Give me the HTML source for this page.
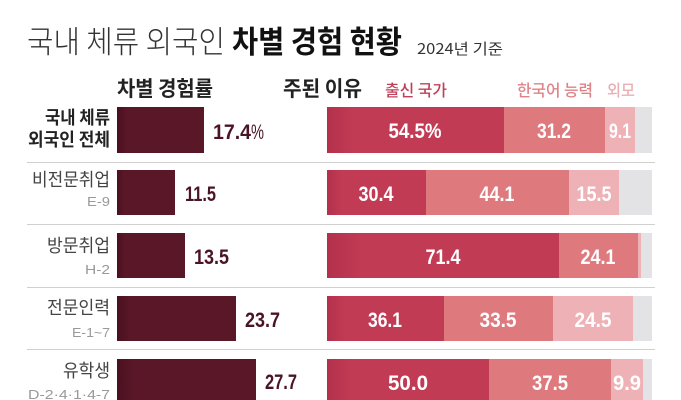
<!DOCTYPE html>
<html><head><meta charset="utf-8">
<style>
html,body{margin:0;padding:0;background:#fff;}
svg{display:block;}
text{font-family:"Liberation Sans","Noto Sans CJK KR",sans-serif;}
.k{font-family:"Noto Sans CJK KR","Liberation Sans",sans-serif;}
</style></head>
<body>
<svg width="681" height="400" viewBox="0 0 681 400" xmlns="http://www.w3.org/2000/svg">
<defs>
<linearGradient id="lg" x1="0" x2="1" y1="0" y2="0">
<stop offset="0" stop-color="#4a1020"/><stop offset="0.12" stop-color="#5a1728"/><stop offset="1" stop-color="#5a1728"/>
</linearGradient>
<linearGradient id="rg" x1="0" x2="1" y1="0" y2="0">
<stop offset="0" stop-color="#b3304b"/><stop offset="0.15" stop-color="#c23b55"/><stop offset="1" stop-color="#c23b55"/>
</linearGradient>
</defs>
<rect width="681" height="400" fill="#fff"/>

<!-- Title -->
<text class="k" x="27" y="53" font-size="31" font-weight="300" fill="#333" textLength="198" lengthAdjust="spacingAndGlyphs">국내 체류 외국인</text>
<text class="k" x="232" y="53" font-size="31" font-weight="700" fill="#111" textLength="170" lengthAdjust="spacingAndGlyphs">차별 경험 현황</text>
<text class="k" x="417" y="54" font-size="15" font-weight="400" fill="#333" textLength="86" lengthAdjust="spacingAndGlyphs">2024년 기준</text>

<!-- headers -->
<text class="k" x="117" y="96" font-size="21" font-weight="700" fill="#222" textLength="96" lengthAdjust="spacingAndGlyphs">차별 경험률</text>
<text class="k" x="283" y="96" font-size="21" font-weight="700" fill="#222" textLength="79" lengthAdjust="spacingAndGlyphs">주된 이유</text>
<text class="k" x="385" y="96" font-size="16" font-weight="500" fill="#c0405a" textLength="62" lengthAdjust="spacingAndGlyphs">출신 국가</text>
<text class="k" x="517" y="96" font-size="16" font-weight="500" fill="#df8387" textLength="76" lengthAdjust="spacingAndGlyphs">한국어 능력</text>
<text class="k" x="607" y="96" font-size="16" font-weight="500" fill="#e9b0b4" textLength="28" lengthAdjust="spacingAndGlyphs">외모</text>

<!-- separators -->
<g stroke="#d0d0d0" stroke-width="1">
<line x1="27" y1="162.5" x2="655" y2="162.5"/>
<line x1="27" y1="224.5" x2="655" y2="224.5"/>
<line x1="27" y1="287.5" x2="655" y2="287.5"/>
<line x1="27" y1="349.5" x2="655" y2="349.5"/>
</g>

<!-- row labels -->
<g text-anchor="end">
<text class="k" x="110" y="124" font-size="18" font-weight="700" fill="#222" textLength="65" lengthAdjust="spacingAndGlyphs">국내 체류</text>
<text class="k" x="110" y="146" font-size="18" font-weight="700" fill="#222" textLength="82" lengthAdjust="spacingAndGlyphs">외국인 전체</text>
<text class="k" x="110" y="186" font-size="18" font-weight="400" fill="#444" textLength="78" lengthAdjust="spacingAndGlyphs">비전문취업</text>
<text x="110" y="206" font-size="13" fill="#999" textLength="23" lengthAdjust="spacingAndGlyphs">E-9</text>
<text class="k" x="110" y="252" font-size="18" font-weight="400" fill="#444" textLength="63" lengthAdjust="spacingAndGlyphs">방문취업</text>
<text x="110" y="274" font-size="13" fill="#999" textLength="25" lengthAdjust="spacingAndGlyphs">H-2</text>
<text class="k" x="110" y="314" font-size="18" font-weight="400" fill="#444" textLength="63" lengthAdjust="spacingAndGlyphs">전문인력</text>
<text x="110" y="337" font-size="13" fill="#999" textLength="38" lengthAdjust="spacingAndGlyphs">E-1~7</text>
<text class="k" x="110" y="377" font-size="18" font-weight="400" fill="#444" textLength="47" lengthAdjust="spacingAndGlyphs">유학생</text>
<text x="110" y="399" font-size="13" fill="#999" textLength="82" lengthAdjust="spacingAndGlyphs">D-2·4·1·4-7</text>
</g>

<!-- left bars -->
<rect x="117" y="107" width="87" height="46" fill="url(#lg)"/>
<rect x="117" y="170" width="58" height="45" fill="url(#lg)"/>
<rect x="117" y="233" width="68" height="45" fill="url(#lg)"/>
<rect x="117" y="296" width="119" height="45" fill="url(#lg)"/>
<rect x="117" y="359" width="139" height="45" fill="url(#lg)"/>

<g font-size="21" font-weight="700" fill="#4a1426">
<text x="213" y="139" textLength="38" lengthAdjust="spacingAndGlyphs">17.4</text>
<text x="251" y="139" font-weight="400" textLength="13" lengthAdjust="spacingAndGlyphs">%</text>
<text x="185" y="201" textLength="31" lengthAdjust="spacingAndGlyphs">11.5</text>
<text x="194" y="264" textLength="35" lengthAdjust="spacingAndGlyphs">13.5</text>
<text x="245" y="327" textLength="35" lengthAdjust="spacingAndGlyphs">23.7</text>
<text x="265" y="389" textLength="32" lengthAdjust="spacingAndGlyphs">27.7</text>
</g>

<!-- stacked bars -->
<g>
<!-- row1 -->
<rect x="327" y="107" width="325" height="46" fill="#e3e3e5"/>
<rect x="327" y="107" width="177" height="46" fill="url(#rg)"/>
<rect x="504" y="107" width="101" height="46" fill="#de7a7e"/>
<rect x="605" y="107" width="30" height="46" fill="#eeb1b6"/>
<!-- row2 -->
<rect x="327" y="170" width="325" height="45" fill="#e3e3e5"/>
<rect x="327" y="170" width="99" height="45" fill="url(#rg)"/>
<rect x="426" y="170" width="143" height="45" fill="#de7a7e"/>
<rect x="569" y="170" width="50" height="45" fill="#eeb1b6"/>
<!-- row3 -->
<rect x="327" y="233" width="325" height="45" fill="#e3e3e5"/>
<rect x="327" y="233" width="232" height="45" fill="url(#rg)"/>
<rect x="559" y="233" width="79" height="45" fill="#de7a7e"/>
<rect x="638" y="233" width="3" height="45" fill="#eeb1b6"/>
<!-- row4 -->
<rect x="327" y="296" width="325" height="45" fill="#e3e3e5"/>
<rect x="327" y="296" width="117" height="45" fill="url(#rg)"/>
<rect x="444" y="296" width="109" height="45" fill="#de7a7e"/>
<rect x="553" y="296" width="80" height="45" fill="#eeb1b6"/>
<!-- row5 -->
<rect x="327" y="359" width="325" height="45" fill="#e3e3e5"/>
<rect x="327" y="359" width="162" height="45" fill="url(#rg)"/>
<rect x="489" y="359" width="122" height="45" fill="#de7a7e"/>
<rect x="611" y="359" width="32" height="45" fill="#eeb1b6"/>
</g>

<g font-size="21" font-weight="700" fill="#fff" text-anchor="middle">
<text x="415" y="138" textLength="53" lengthAdjust="spacingAndGlyphs">54.5%</text>
<text x="554" y="138" textLength="34" lengthAdjust="spacingAndGlyphs">31.2</text>
<text x="620" y="138" textLength="22" lengthAdjust="spacingAndGlyphs">9.1</text>

<text x="376" y="201" textLength="35" lengthAdjust="spacingAndGlyphs">30.4</text>
<text x="497" y="201" textLength="35" lengthAdjust="spacingAndGlyphs">44.1</text>
<text x="594" y="201" textLength="35" lengthAdjust="spacingAndGlyphs">15.5</text>

<text x="443" y="264" textLength="35" lengthAdjust="spacingAndGlyphs">71.4</text>
<text x="598" y="264" textLength="35" lengthAdjust="spacingAndGlyphs">24.1</text>

<text x="385" y="327" textLength="34" lengthAdjust="spacingAndGlyphs">36.1</text>
<text x="498" y="327" textLength="37" lengthAdjust="spacingAndGlyphs">33.5</text>
<text x="593" y="327" textLength="37" lengthAdjust="spacingAndGlyphs">24.5</text>

<text x="408" y="390" textLength="40" lengthAdjust="spacingAndGlyphs">50.0</text>
<text x="550" y="390" textLength="36" lengthAdjust="spacingAndGlyphs">37.5</text>
<text x="627" y="390" textLength="28" lengthAdjust="spacingAndGlyphs">9.9</text>
</g>
</svg>
</body></html>
